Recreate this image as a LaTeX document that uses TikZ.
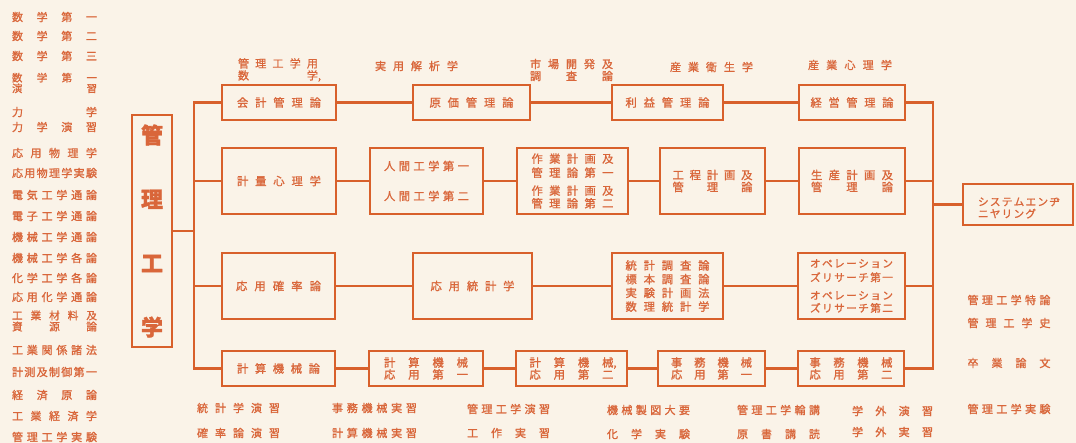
\documentclass[tikz,border=0pt]{standalone}
\usepackage{fontspec}
\setmainfont{Noto Sans CJK JP}[FakeBold=1.2]
\newdimen\px \px=0.75pt
\ExplSyntaxOn
\NewDocumentCommand\spr{mm}{\makebox[#1\px][s]{\bool_set_true:N\l_tmpa_bool\tl_map_inline:nn{#2}{\bool_if:NF\l_tmpa_bool{\hfill}\bool_set_false:N\l_tmpa_bool ##1}}}
\ExplSyntaxOff
\definecolor{bg}{HTML}{FAF3E8}
\definecolor{lc}{HTML}{D8602B}
\definecolor{tc}{HTML}{D9663A}
\newcommand\bx[7][]{\node[box,#1,minimum width={(#5-#3)*0.75pt},minimum height={(#6-#4)*0.75pt}] (#2) at ({(#3+#5)/2},{(#4+#6)/2}) {#7};}
\begin{document}
\begin{tikzpicture}[x=0.75pt,y=-0.75pt,
  box/.style={draw=lc,line width=1.5pt,inner sep=0pt,text=tc,align=center,font=\fontsize{8.5}{9.5}\selectfont},
  conn/.style={draw=lc,line width=2pt},
  lbl/.style={text=tc,inner sep=0pt,align=center,font=\fontsize{8.3}{9.5}\selectfont},
  kana/.style={font=\fontsize{8}{9.5}\selectfont}]
\fill[bg] (0,0) rectangle (1076,443);
\useasboundingbox (0,0) rectangle (1076,443);
% left column
\node[lbl] (l1) at (54.5,17) {\spr{85}{数学第一}};
\node[lbl] (l2) at (54.5,36) {\spr{85}{数学第二}};
\node[lbl] (l3) at (54.5,56) {\spr{85}{数学第三}};
\node[lbl,font=\fontsize{7.8}{8}\selectfont] (l4) at (54.5,83) {\spr{85}{数学第一}\\\spr{85}{演習}};
\node[lbl] (l5) at (54.5,112) {\spr{85}{力学}};
\node[lbl] (l6) at (54.5,127) {\spr{85}{力学演習}};
\node[lbl] (l7) at (54.5,153) {\spr{85}{応用物理学}};
\node[lbl] (l8) at (54.5,173) {\spr{85}{応用物理学実験}};
\node[lbl] (l9) at (54.5,195) {\spr{85}{電気工学通論}};
\node[lbl] (l10) at (54.5,216) {\spr{85}{電子工学通論}};
\node[lbl] (l11) at (54.5,237) {\spr{85}{機械工学通論}};
\node[lbl] (l12) at (54.5,258) {\spr{85}{機械工学各論}};
\node[lbl] (l13) at (54.5,278) {\spr{85}{化学工学各論}};
\node[lbl] (l14) at (54.5,297) {\spr{85}{応用化学通論}};
\node[lbl,font=\fontsize{8}{8.3}\selectfont] (l15) at (54.5,321) {\spr{85}{工業材料及}\\\spr{85}{資源論}};
\node[lbl] (l16) at (54.5,350) {\spr{85}{工業関係諸法}};
\node[lbl] (l17) at (54.5,372) {\spr{85}{計測及制御第一}};
\node[lbl] (l18) at (54.5,395) {\spr{85}{経済原論}};
\node[lbl] (l19) at (54.5,416) {\spr{85}{工業経済学}};
\node[lbl] (l20) at (54.5,437) {\spr{85}{管理工学実験}};
% big box
\bx[font=\fontsize{16.5}{48}\selectfont\bfseries]{kanri}{132}{115}{172}{347}{管\\理\\工\\学}
% row 1
\bx{kaikei}{222}{85}{336}{120}{\spr{84}{会計管理論}}
\bx{genka}{413}{85}{530}{120}{\spr{84}{原価管理論}}
\bx{rieki}{612}{85}{723}{120}{\spr{84}{利益管理論}}
\bx{keiei}{799}{85}{905}{120}{\spr{83}{経営管理論}}
% row 2
\bx{keiryo}{222}{148}{336}{214}{\spr{84}{計量心理学}}
\bx{ningen}{370}{148}{483}{214}{\spr{85}{人間工学第一}\\[13pt]\spr{85}{人間工学第二}}
\bx{sagyo}{517}{148}{628}{214}{\spr{82}{作業計画及}\\[1pt]\spr{82}{管理論第一}\\[4pt]\spr{82}{作業計画及}\\\spr{82}{管理論第二}}
\bx{kotei}{660}{148}{765}{214}{\spr{80}{工程計画及}\\[-0.5pt]\spr{80}{管理論}}
\bx{seisan}{799}{148}{905}{214}{\spr{82}{生産計画及}\\[-0.5pt]\spr{82}{管理論}}
% row 3
\bx{kakuritsu}{222}{253}{335}{319}{\spr{85}{応用確率論}}
\bx{tokei}{413}{253}{532}{319}{\spr{84}{応用統計学}}
\bx{chosa}{612}{253}{723}{319}{\spr{84}{統計調査論}\\[0.8pt]\spr{84}{標本調査論}\\[0.8pt]\spr{84}{実験計画法}\\[0.8pt]\spr{84}{数理統計学}}
\bx[kana]{opr}{798}{253}{905}{319}{\spr{83}{オペレーション}\\[1pt]\spr{83}{ズリサーチ第一}\\[4pt]\spr{83}{オペレーション}\\\spr{83}{ズリサーチ第二}}
% row 4
\bx{keisanki}{222}{351}{335}{386}{\spr{83}{計算機械論}}
\bx{kouyou1}{369}{351}{483}{386}{\spr{84}{計算機械}\\[-0.5pt]\spr{84}{応用第一}}
\bx{kouyou2}{516}{351}{627}{386}{\spr{84}{計算機{械\rlap{,}}}\\[-0.5pt]\spr{84}{応用第二}}
\bx{jimu1}{658}{351}{765}{386}{\spr{81}{事務機械}\\[-0.5pt]\spr{81}{応用第一}}
\bx{jimu2}{798}{351}{904}{386}{\spr{83}{事務機械}\\[-0.5pt]\spr{83}{応用第二}}
% system engineering
\bx{system}{963}{184}{1073}{225}{}
\node[lbl,kana] (systxt) at (1019,208) {\makebox[82\px][l]{\spr{82}{システムエンヂ}}\\[-0.5pt]\makebox[82\px][l]{\spr{58}{ニヤリング}}};
% connectors
\coordinate (tx) at (194,0);
\coordinate (rx) at (933,0);
\draw[conn] (kanri.east) -- (kanri.east -| tx);
\draw[conn] (kaikei.west) -- (kaikei.west -| tx) -- (keisanki.west -| tx) -- (keisanki.west);
\draw[conn] (keiryo.west) -- (keiryo.west -| tx);
\draw[conn] (kakuritsu.west) -- (kakuritsu.west -| tx);
\draw[conn] (kaikei) -- (genka);
\draw[conn] (genka) -- (rieki);
\draw[conn] (rieki) -- (keiei);
\draw[conn] (keiryo) -- (ningen);
\draw[conn] (ningen) -- (sagyo);
\draw[conn] (sagyo) -- (kotei);
\draw[conn] (kotei) -- (seisan);
\draw[conn] (kakuritsu) -- (tokei);
\draw[conn] (tokei) -- (chosa);
\draw[conn] (chosa) -- (opr);
\draw[conn] (keisanki) -- (kouyou1);
\draw[conn] (kouyou1) -- (kouyou2);
\draw[conn] (kouyou2) -- (jimu1);
\draw[conn] (jimu1) -- (jimu2);
\draw[conn] (keiei.east) -- (keiei.east -| rx) -- (jimu2.east -| rx) -- (jimu2.east);
\draw[conn] (seisan.east) -- (seisan.east -| rx);
\draw[conn] (opr.east) -- (opr.east -| rx);
\draw[conn] (system.west) -- (system.west -| rx);
% top labels
\node[lbl] (t1) at (278,70) {\spr{80}{管理工学用}\\[-0.5pt]\spr{80}{数{学\rlap{,}}}};
\node[lbl] (t2) at (416.5,66) {\spr{83}{実用解析学}};
\node[lbl] (t3) at (571.5,70) {\spr{83}{市場開発及}\\[-0.5pt]\spr{83}{調査論}};
\node[lbl] (t4) at (711.5,67) {\spr{83}{産業衛生学}};
\node[lbl] (t5) at (850,65) {\spr{84}{産業心理学}};
% bottom labels
\node[lbl] (b1) at (238.5,408) {\spr{83}{統計学演習}};
\node[lbl] (b2) at (238.5,433) {\spr{83}{確率論演習}};
\node[lbl] (b3) at (374.5,408) {\spr{85}{事務機械実習}};
\node[lbl] (b4) at (374.5,433) {\spr{85}{計算機械実習}};
\node[lbl] (b5) at (508.5,409) {\spr{83}{管理工学演習}};
\node[lbl] (b6) at (508.5,433) {\spr{83}{工作実習}};
\node[lbl] (b7) at (648.5,410) {\spr{83}{機械製図大要}};
\node[lbl] (b8) at (648.5,434) {\spr{83}{化学実験}};
\node[lbl] (b9) at (778.5,410) {\spr{83}{管理工学輪講}};
\node[lbl] (b10) at (778.5,434) {\spr{83}{原書講読}};
\node[lbl] (b11) at (892.5,411) {\spr{81}{学外演習}};
\node[lbl] (b12) at (892.5,432) {\spr{81}{学外実習}};
% right labels
\node[lbl] (r1) at (1009,300) {\spr{83}{管理工学特論}};
\node[lbl] (r2) at (1009,323) {\spr{83}{管理工学史}};
\node[lbl] (r3) at (1009,363) {\spr{83}{卒業論文}};
\node[lbl] (r4) at (1009,409) {\spr{83}{管理工学実験}};
\end{tikzpicture}
\end{document}
